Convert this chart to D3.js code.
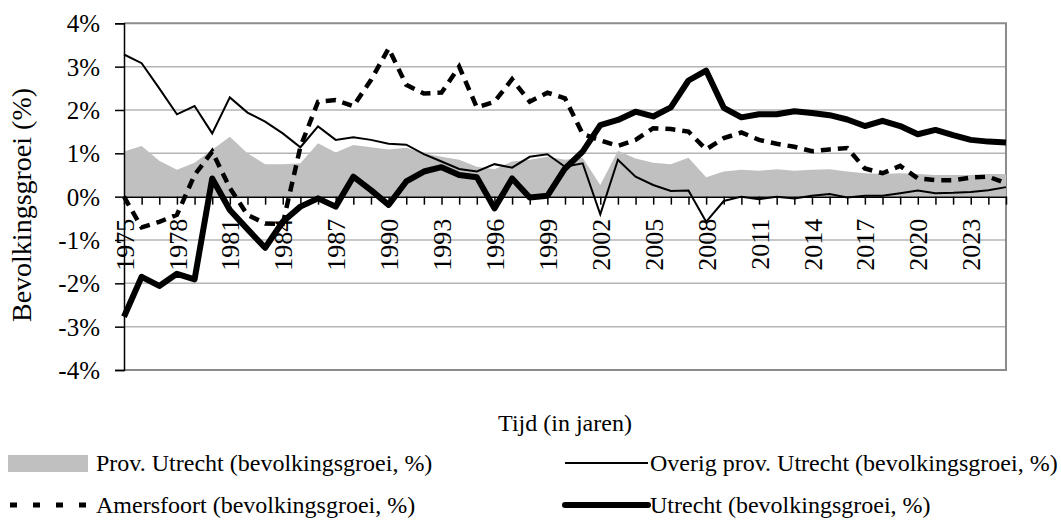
<!DOCTYPE html>
<html>
<head>
<meta charset="utf-8">
<script src="https://cdn.jsdelivr.net/npm/d3@7/dist/d3.min.js"></script>
<style>
  body { margin: 0; background: #fff; }
  text { font-family: "Liberation Serif", "Times New Roman", serif; fill: #000; }
</style>
</head>
<body>
<svg id="chart" width="1061" height="529"></svg>
<script>
const years = [
  1975, 1976, 1977, 1978, 1979, 1980, 1981, 1982, 1983, 1984,
  1985, 1986, 1987, 1988, 1989, 1990, 1991, 1992, 1993, 1994,
  1995, 1996, 1997, 1998, 1999, 2000, 2001, 2002, 2003, 2004,
  2005, 2006, 2007, 2008, 2009, 2010, 2011, 2012, 2013, 2014,
  2015, 2016, 2017, 2018, 2019, 2020, 2021, 2022, 2023, 2024, 2025
]

// Prov. Utrecht (gray area)
const provUtrecht = [
  1.04, 1.17, 0.83, 0.62, 0.78, 1.08, 1.38, 1.00, 0.75, 0.75,
  0.77, 1.23, 1.02, 1.19, 1.14, 1.09, 1.13, 1.00, 0.92, 0.85,
  0.69, 0.63, 0.81, 0.85, 0.92, 0.85, 0.90, 0.27, 1.06, 0.88,
  0.78, 0.75, 0.90, 0.45, 0.58, 0.62, 0.60, 0.63, 0.60, 0.62,
  0.63, 0.58, 0.54, 0.52, 0.54, 0.52, 0.50, 0.50, 0.50, 0.52, 0.52
]

// Overig prov. Utrecht (thin line)
const overig = [
  3.28, 3.08, 2.50, 1.90, 2.09, 1.46, 2.29, 1.94, 1.73, 1.46,
  1.14, 1.62, 1.31, 1.37, 1.31, 1.22, 1.20, 0.98, 0.81, 0.64,
  0.58, 0.75, 0.67, 0.92, 0.98, 0.69, 0.77, -0.41, 0.85, 0.46,
  0.27, 0.13, 0.14, -0.58, -0.10, 0.00, -0.06, 0.00, -0.04, 0.02,
  0.06, -0.02, 0.02, 0.02, 0.08, 0.14, 0.08, 0.09, 0.11, 0.15, 0.22
]

// Amersfoort (dashed)
const amersfoort = [
  0.00, -0.71, -0.58, -0.42, 0.50, 1.04, 0.20, -0.42, -0.62, -0.63,
  1.15, 2.19, 2.23, 2.09, 2.69, 3.42, 2.58, 2.38, 2.40, 3.00,
  2.06, 2.19, 2.71, 2.19, 2.40, 2.27, 1.45, 1.30, 1.17, 1.31,
  1.58, 1.56, 1.50, 1.09, 1.35, 1.48, 1.31, 1.22, 1.15, 1.05,
  1.09, 1.12, 0.65, 0.54, 0.71, 0.42, 0.38, 0.38, 0.44, 0.46, 0.31
]

// Utrecht (thick line)
const utrecht = [
  -2.77, -1.85, -2.06, -1.78, -1.91, 0.42, -0.31, -0.75, -1.18, -0.58,
  -0.23, -0.04, -0.23, 0.46, 0.15, -0.19, 0.35, 0.58, 0.68, 0.50,
  0.45, -0.27, 0.42, -0.02, 0.02, 0.65, 1.04, 1.65, 1.77, 1.96,
  1.85, 2.06, 2.68, 2.91, 2.05, 1.83, 1.90, 1.90, 1.97, 1.93,
  1.88, 1.78, 1.63, 1.75, 1.63, 1.44, 1.54, 1.42, 1.31, 1.27, 1.25
]

const yTicks = [-4, -3, -2, -1, 0, 1, 2, 3, 4]
const labelYears = [1975, 1978, 1981, 1984, 1987, 1990, 1993, 1996, 1999,
  2002, 2005, 2008, 2011, 2014, 2017, 2020, 2023]

const legendItems = [
  { name: "Prov. Utrecht (bevolkingsgroei, %)", kind: "area" },
  { name: "Overig prov. Utrecht (bevolkingsgroei, %)", kind: "thin" },
  { name: "Amersfoort (bevolkingsgroei, %)", kind: "dash" },
  { name: "Utrecht (bevolkingsgroei, %)", kind: "thick" }
]

const svg = d3.select("#chart")
const plotL = 124, plotR = 1006, plotT = 23.3, plotB = 370

const x = d3.scalePoint().domain(years).range([plotL, plotR])
const y = d3.scaleLinear().domain([-4, 4]).range([plotB, plotT])

// ── Gridlines ───────────────────────────────
svg.append("g").selectAll("line")
  .data(yTicks.filter(d => d !== 0 && d !== 4 && d !== -4))
  .join("line")
  .attr("x1", plotL).attr("x2", plotR)
  .attr("y1", d => y(d)).attr("y2", d => y(d))
  .attr("stroke", "#b4b4b4").attr("stroke-width", 1.5)

// plot frame (top, right, bottom)
svg.append("path")
  .attr("d", `M${plotL},${plotT}H${plotR}V${plotB}H${plotL}`)
  .attr("fill", "none").attr("stroke", "#8c8c8c").attr("stroke-width", 2)

// ── Area: Prov. Utrecht ─────────────────────
const area = d3.area()
  .x((d, i) => x(years[i]))
  .y0(y(0))
  .y1(d => y(d))
svg.append("path").datum(provUtrecht)
  .attr("d", area)
  .attr("fill", "#c0c0c0")

// ── Lines ───────────────────────────────────
const line = d3.line()
  .x((d, i) => x(years[i]))
  .y(d => y(d))

svg.append("path").datum(overig)
  .attr("d", line)
  .attr("fill", "none").attr("stroke", "#000").attr("stroke-width", 2)

svg.append("path").datum(amersfoort)
  .attr("d", line)
  .attr("fill", "none").attr("stroke", "#000").attr("stroke-width", 4.5)
  .attr("stroke-dasharray", "10,7")

svg.append("path").datum(utrecht)
  .attr("d", line)
  .attr("fill", "none").attr("stroke", "#000").attr("stroke-width", 6)
  .attr("stroke-linejoin", "round")

// ── Axes ────────────────────────────────────
const yAxis = svg.append("g")
  .attr("transform", `translate(${plotL},0)`)
  .call(d3.axisLeft(y).tickValues(yTicks).tickFormat(d => d + "%").tickSize(9).tickPadding(15))
yAxis.select(".domain").attr("stroke", "#000").attr("stroke-width", 1.5)
yAxis.selectAll(".tick line").attr("stroke", "#000").attr("stroke-width", 1.5)
yAxis.selectAll("text").style("font-size", "25px").attr("dy", "0.34em")

const xAxis = svg.append("g")
  .attr("transform", `translate(0,${y(0)})`)
  .call(d3.axisBottom(x).tickSize(8).tickSizeOuter(0)
    .tickFormat(d => labelYears.includes(d) ? d : ""))
xAxis.select(".domain").attr("stroke", "#000").attr("stroke-width", 1.5)
xAxis.selectAll(".tick line").attr("stroke", "#000").attr("stroke-width", 1.5)
xAxis.selectAll("text")
  .style("font-size", "26px")
  .attr("transform", "rotate(-90)")
  .attr("x", -22).attr("y", 0).attr("dy", "0.35em")
  .attr("text-anchor", "end")

// ── Titles ──────────────────────────────────
svg.append("text")
  .attr("transform", "translate(31,205) rotate(-90)")
  .attr("text-anchor", "middle")
  .style("font-size", "28px")
  .text("Bevolkingsgroei (%)")

svg.append("text")
  .attr("x", 565).attr("y", 431)
  .attr("text-anchor", "middle")
  .style("font-size", "24px")
  .text("Tijd (in jaren)")

// ── Legend ──────────────────────────────────
const legendPos = [
  { sx: 10, tx: 96, cy: 463 },
  { sx: 565, tx: 650, cy: 463 },
  { sx: 10, tx: 96, cy: 505 },
  { sx: 565, tx: 650, cy: 505 }
]
const legend = svg.append("g")
legendItems.forEach((item, i) => {
  const p = legendPos[i]
  const g = legend.append("g")
  if (item.kind === "area") {
    g.append("rect").attr("x", p.sx - 2).attr("y", p.cy - 8)
      .attr("width", 80).attr("height", 17).attr("fill", "#c0c0c0")
  } else {
    const l = g.append("line")
      .attr("x1", p.sx).attr("x2", p.sx + 83)
      .attr("y1", p.cy).attr("y2", p.cy)
      .attr("stroke", "#000")
    if (item.kind === "thin") l.attr("stroke-width", 2)
    if (item.kind === "dash") l.attr("stroke-width", 5).attr("stroke-dasharray", "7,16")
    if (item.kind === "thick") l.attr("stroke-width", 6).attr("stroke-linecap", "round")
  }
  g.append("text")
    .attr("x", p.tx).attr("y", p.cy).attr("dy", "0.33em")
    .style("font-size", "24px")
    .text(item.name)
})
</script>
</body>
</html>
